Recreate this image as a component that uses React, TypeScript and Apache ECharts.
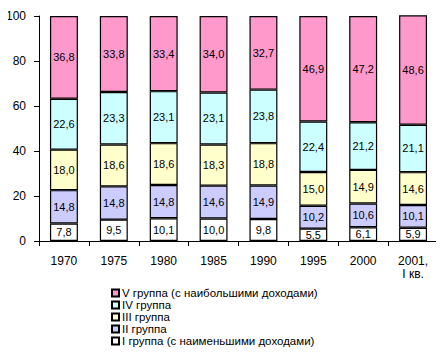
import React, { useEffect, useRef } from "react";
import * as echarts from "echarts";

const categories = ["1970", "1975", "1980", "1985", "1990", "1995", "2000", "2001,\nI кв."];
const group1 = [7.8, 9.5, 10.1, 10.0, 9.8, 5.5, 6.1, 5.9];
const group2 = [14.8, 14.8, 14.8, 14.6, 14.9, 10.2, 10.6, 10.1];
const group3 = [18.0, 18.6, 18.6, 18.3, 18.8, 15.0, 14.9, 14.6];
const group4 = [22.6, 23.3, 23.1, 23.1, 23.8, 22.4, 21.2, 21.1];
const group5 = [36.8, 33.8, 33.4, 34.0, 32.7, 46.9, 47.2, 48.6];
const seriesNames = [
  "I группа (с наименьшими доходами)",
  "II группа",
  "III группа",
  "IV группа",
  "V группа (с наибольшими доходами)",
];
const seriesColors = ["#FFFFFF", "#CCCCFF", "#FFFFCC", "#CCFFFF", "#FF99CC"];
const yTicks = [0, 20, 40, 60, 80, 100];

const FONT = "Liberation Sans, Arial, sans-serif";

export default function App() {
  const ref = useRef<HTMLDivElement>(null);
  useEffect(() => {
    if (!ref.current) return;
    const chart = echarts.init(ref.current, null, { renderer: "svg" });
    const all = [group1, group2, group3, group4, group5];
    const series = all.map((data, i) => ({
      name: seriesNames[i],
      type: "bar",
      stack: "total",
      data,
      barWidth: "56%",
      clip: false,
      itemStyle: { color: seriesColors[i], borderColor: "#000", borderWidth: 1.2 },
      label: {
        show: true,
        position: "inside",
        color: "#000",
        fontFamily: FONT,
        fontSize: 11,
        formatter: (p: any) => Number(p.value).toFixed(1).replace(".", ","),
      },
    }));
    chart.setOption({
      animation: false,
      textStyle: { fontFamily: FONT },
      grid: { left: 39, right: 6, top: 16, bottom: 117, containLabel: false },
      legend: {
        orient: "vertical",
        left: 111,
        top: 287,
        padding: 0,
        itemGap: 0,
        itemWidth: 7,
        itemHeight: 7,
        icon: "rect",
        data: [...seriesNames].reverse(),
        textStyle: { fontFamily: FONT, fontSize: 11.5, color: "#000", lineHeight: 11.5, padding: [0, 0, 0, -2] },
      },
      xAxis: {
        type: "category",
        data: categories,
        axisLine: { lineStyle: { color: "#000", width: 1 } },
        axisTick: { show: true, interval: 0, length: 5, lineStyle: { color: "#000" } },
        axisLabel: {
          interval: 0,
          color: "#000",
          fontFamily: FONT,
          fontSize: 12,
          margin: 13,
          lineHeight: 13,
        },
      },
      yAxis: {
        type: "value",
        min: yTicks[0],
        max: yTicks[yTicks.length - 1],
        interval: 20,
        axisLine: { show: true, lineStyle: { color: "#000", width: 1 } },
        axisTick: { show: true, length: 5, lineStyle: { color: "#000" } },
        splitLine: { show: false },
        axisLabel: { color: "#000", fontFamily: FONT, fontSize: 12, margin: 13 },
      },
      series,
    });
    return () => chart.dispose();
  }, []);
  return <div ref={ref} style={{ width: 444, height: 358, margin: -8 }} />;
}
